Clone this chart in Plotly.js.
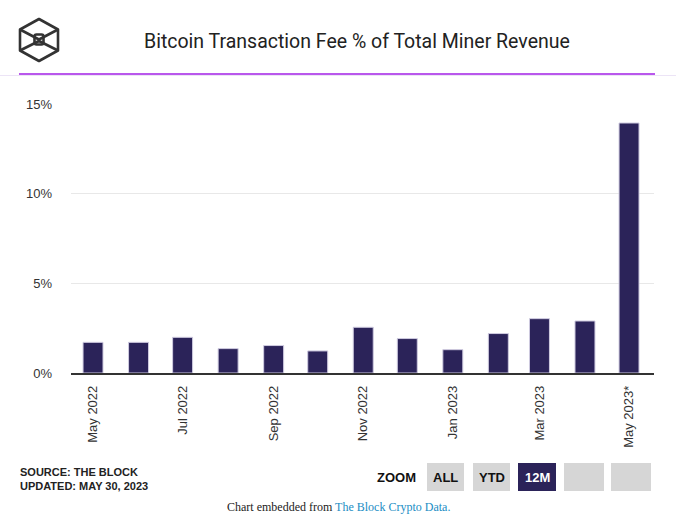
<!DOCTYPE html>
<html>
<head>
<meta charset="utf-8">
<script src="https://cdn.plot.ly/plotly-3.0.1.min.js"></script>
<style>
  html,body{margin:0;padding:0;background:#fff;}
  #wrap{position:relative;width:676px;height:515px;overflow:hidden;}
  #chart{position:absolute;left:0;top:0;width:676px;height:515px;}
  #logo{position:absolute;left:17px;top:17px;width:44px;height:46px;}
</style>
</head>
<body>
<div id="wrap">
  <div id="chart"></div>
  <svg id="logo" viewBox="0 0 44 46">
    <g fill="none" stroke="#333" stroke-width="2.6" stroke-linejoin="round">
      <polygon points="22,2 41,12.5 41,33.5 22,44 3,33.5 3,12.5"/>
      <polyline points="3,12.5 22,22.5 41,12.5"/>
      <polyline points="3,33.5 22,24 41,33.5"/>
      <rect x="17.5" y="17.5" width="9" height="10" rx="2"/>
    </g>
  </svg>
</div>
<script>
const months = ["2022-05-01","2022-06-01","2022-07-01","2022-08-01","2022-09-01","2022-10-01","2022-11-01","2022-12-01","2023-01-01","2023-02-01","2023-03-01","2023-04-01","2023-05-01"];
const feePct = [1.71, 1.71, 1.99, 1.36, 1.53, 1.23, 2.55, 1.92, 1.30, 2.20, 3.03, 2.90, 13.94];
const tickDates = ["2022-05-01","2022-07-01","2022-09-01","2022-11-01","2023-01-01","2023-03-01","2023-05-01"];
const tickLabels = ["May 2022","Jul 2022","Sep 2022","Nov 2022","Jan 2023","Mar 2023","May 2023*"];
const yTicks = [0, 5, 10, 15];
const yTickLabels = ["0%","5%","10%","15%"];
const title = "Bitcoin Transaction Fee % of Total Miner Revenue";
const zoomButtons = ["ALL","YTD","12M","",""];

const W = 676, H = 515;
const M = {l:71, r:22, t:104, b:142};
const PW = W - M.l - M.r, PH = H - M.t - M.b;
const px = x => (x - M.l) / PW;
const py = y => (H - M.b - y) / PH;

const trace = {
  type: "bar",
  x: months,
  y: feePct,
  width: 13.6 * 86400000,
  marker: {color: "#2b2359", line: {color: "#cfcbe0", width: 1}},
  hoverinfo: "x+y"
};

const shapes = [
  {type:"line", xref:"paper", yref:"paper", x0:px(0), x1:px(676), y0:py(75.5), y1:py(75.5), line:{color:"#ece4f6", width:1}},
  {type:"line", xref:"paper", yref:"paper", x0:px(19), x1:px(655), y0:py(74), y1:py(74), line:{color:"#a21fe6", width:1.6}}
];
const annotations = [
  {text: title, xref:"paper", yref:"paper", x:px(357), y:py(42), xanchor:"center", yanchor:"middle", showarrow:false,
   font:{family:"Roboto, Arial, sans-serif", size:19.5, color:"#222"}},
  {text:"SOURCE: THE BLOCK<br>UPDATED: MAY 30, 2023", xref:"paper", yref:"paper", x:px(18), y:py(479), xanchor:"left", yanchor:"middle", align:"left", showarrow:false,
   font:{family:"'Liberation Sans Narrow', 'Arial Narrow', 'Liberation Sans', sans-serif", size:11, color:"#222", weight:700}},
  {text:"ZOOM", xref:"paper", yref:"paper", x:px(418), y:py(477), xanchor:"right", yanchor:"middle", showarrow:false,
   font:{family:"'Liberation Sans Narrow', 'Liberation Sans', sans-serif", size:13, color:"#111", weight:700}},
  {text:"Chart embedded from <span style='color:#1a8dc4'>The Block Crypto Data.</span>", xref:"paper", yref:"paper", x:px(338), y:py(507), xanchor:"center", yanchor:"middle", showarrow:false,
   font:{family:"'Liberation Serif', 'Times New Roman', serif", size:12, color:"#222"}}
];
const btnX = [[427,464],[473,510],[518,556],[564,604],[611,651]];
zoomButtons.forEach((label, i) => {
  const active = label === "12M";
  shapes.push({type:"rect", xref:"paper", yref:"paper", x0:px(btnX[i][0]), x1:px(btnX[i][1]), y0:py(491), y1:py(463),
    fillcolor: active ? "#2b2359" : "#d6d6d6", line:{width:0}, layer:"above"});
  if (label) annotations.push({text:label, xref:"paper", yref:"paper", x:px((btnX[i][0]+btnX[i][1])/2), y:py(477.5), xanchor:"center", yanchor:"middle", showarrow:false,
    font:{family:"'Liberation Sans Narrow', 'Liberation Sans', sans-serif", size:13, color: active ? "#fff" : "#111", weight:700}});
});

const layout = {
  width: W, height: H,
  margin: {l:M.l, r:M.r, t:M.t, b:M.b, pad:0},
  paper_bgcolor:"#fff", plot_bgcolor:"#fff",
  showlegend:false,
  bargap:0,
  font:{family:"'Liberation Sans', Arial, sans-serif", size:13, color:"#333"},
  xaxis:{type:"date", range:["2022-04-16","2023-05-18"], tickmode:"array", tickvals:tickDates, ticktext:tickLabels,
    tickangle:-90, showgrid:false, showline:true, linecolor:"#333", linewidth:1.5, ticks:"", ticklabelstandoff:6,
    tickfont:{size:13, color:"#333"}, zeroline:false, fixedrange:true},
  yaxis:{range:[0,15], tickmode:"array", tickvals:yTicks, ticktext:yTickLabels, showgrid:true, gridcolor:"#e8e8e8", gridwidth:1,
    zeroline:false, showline:false, ticks:"", ticklabelstandoff:18, tickfont:{size:13, color:"#333"}, fixedrange:true},
  shapes: shapes,
  annotations: annotations
};
Plotly.newPlot("chart", [trace], layout, {displayModeBar:false, staticPlot:true});
</script>
</body>
</html>
